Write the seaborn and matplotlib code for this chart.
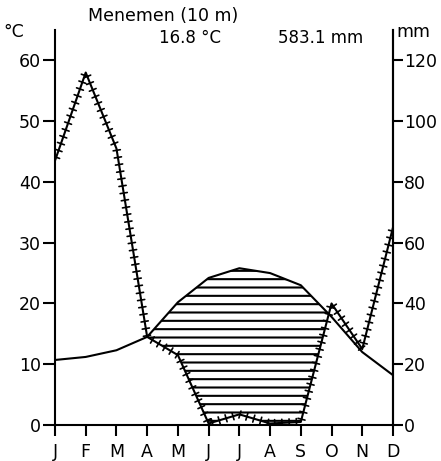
import numpy as np
import pandas as pd
import matplotlib
matplotlib.use('Agg')
import matplotlib.pyplot as plt
import matplotlib.patheffects as pe
import seaborn as sns

# monthly values
months = ['J', 'F', 'M', 'A', 'M', 'J', 'J', 'A', 'S', 'O', 'N', 'D']
temp_c = [10.7, 11.2, 12.3, 14.5, 20.2, 24.2, 25.8, 25.0, 23.0, 17.8, 12.0, 8.2]
prec_mm = [87, 116, 91, 29, 23, 0.5, 3.5, 0.5, 1, 40, 25, 65]

station = 'Menemen (10 m)'
mean_temp = '16.8 °C'
total_prec = '583.1 mm'

sns.set_theme(style='ticks')
plt.rcParams['font.family'] = ['DejaVu Sans']
plt.rcParams['text.color'] = 'black'
plt.rcParams['hatch.linewidth'] = 1.5

df = pd.DataFrame({'m': np.arange(12), 'temp': temp_c, 'prec': prec_mm})
df['prec_c'] = df['prec'] / 2  # 20 mm = 10 °C

fig = plt.figure(figsize=(4.41, 4.61), dpi=100)
ax = fig.add_axes([0.1247, 0.0781, 0.7664, 0.8568])

# dry period hatched
ax.fill_between(df['m'], df['prec_c'], df['temp'], where=df['temp'] >= df['prec_c'],
                interpolate=True, facecolor='none', edgecolor='black',
                hatch='--', linewidth=0)

sns.lineplot(data=df, x='m', y='temp', ax=ax, color='black', linewidth=1.5)
ticked = [pe.TickedStroke(angle=90, spacing=5.2, length=0.5, linewidth=1.2),
          pe.TickedStroke(angle=-90, spacing=5.2, length=0.5, linewidth=1.2),
          pe.Normal()]
sns.lineplot(data=df, x='m', y='prec_c', ax=ax, color='black', linewidth=1.5,
             path_effects=ticked)

ax.set_xlim(0, 11)
ax.set_ylim(0, 65)
ax.set_xticks(range(12))
ax.set_xticklabels(months)
ax.set_yticks(range(0, 61, 10))
ax.set_xlabel('')
ax.set_ylabel('')
ax.spines['top'].set_visible(False)
for s in ['left', 'right', 'bottom']:
    ax.spines[s].set_linewidth(1.5)
    ax.spines[s].set_color('black')
ax.tick_params(axis='y', length=9, width=1.5, pad=1, labelsize=12.5, colors='black')
ax.tick_params(axis='x', length=8, width=1.5, pad=5, labelsize=12.5, colors='black')

sec = ax.secondary_yaxis('right', functions=(lambda t: t * 2, lambda p: p / 2))
sec.set_yticks(range(0, 121, 20))
sec.spines['right'].set_linewidth(1.5)
sec.tick_params(length=7, width=1.5, pad=1, labelsize=12.5, colors='black')

fig.text(14 / 441, 1 - 32 / 461, '°C', fontsize=12.5, ha='center', va='center')
fig.text(413 / 441, 1 - 32 / 461, 'mm', fontsize=12.5, ha='center', va='center')
fig.text(163 / 441, 1 - 16 / 461, station, fontsize=12.5, ha='center', va='center')
fig.text(190 / 441, 1 - 38 / 461, mean_temp, fontsize=12, ha='center', va='center')
fig.text(321 / 441, 1 - 38 / 461, total_prec, fontsize=12, ha='center', va='center')

fig.savefig('out.png', dpi=100)
